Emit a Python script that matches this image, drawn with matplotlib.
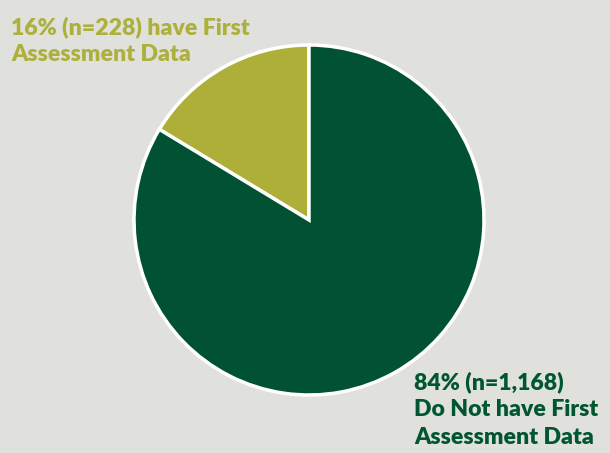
import matplotlib.pyplot as plt

# data
labels = ['16% (n=228) have First\nAssessment Data',
          '84% (n=1,168)\nDo Not have First\nAssessment Data']
counts = [228, 1168]
colors = ['#ADAF38', '#005232']
text_colors = ['#ADB03A', '#00562F']

bg = '#E0E1DC'
W, H = 610, 453

fig = plt.figure(figsize=(W / 100, H / 100), dpi=100)
fig.patch.set_facecolor(bg)

# pie centre at (309, 220) px, radius 175 px
cx, cy, r = 309, 220, 175
ax = fig.add_axes([(cx - r) / W, (H - cy - r) / H, 2 * r / W, 2 * r / H])
ax.pie(counts, colors=colors, startangle=90, counterclock=True,
       wedgeprops=dict(edgecolor='white', linewidth=2.5))
ax.set_xlim(-1, 1)
ax.set_ylim(-1, 1)
ax.set_aspect('equal')
ax.axis('off')

font = dict(family='Lato', weight='heavy', fontsize=16.6, linespacing=1.38)
fig.text(11 / W, 1 - 16 / H, labels[0], color=text_colors[0], va='top', ha='left', **font)
fig.text(414 / W, 1 - 371 / H, labels[1], color=text_colors[1], va='top', ha='left', **font)

fig.savefig('out.png', dpi=100, facecolor=bg)
